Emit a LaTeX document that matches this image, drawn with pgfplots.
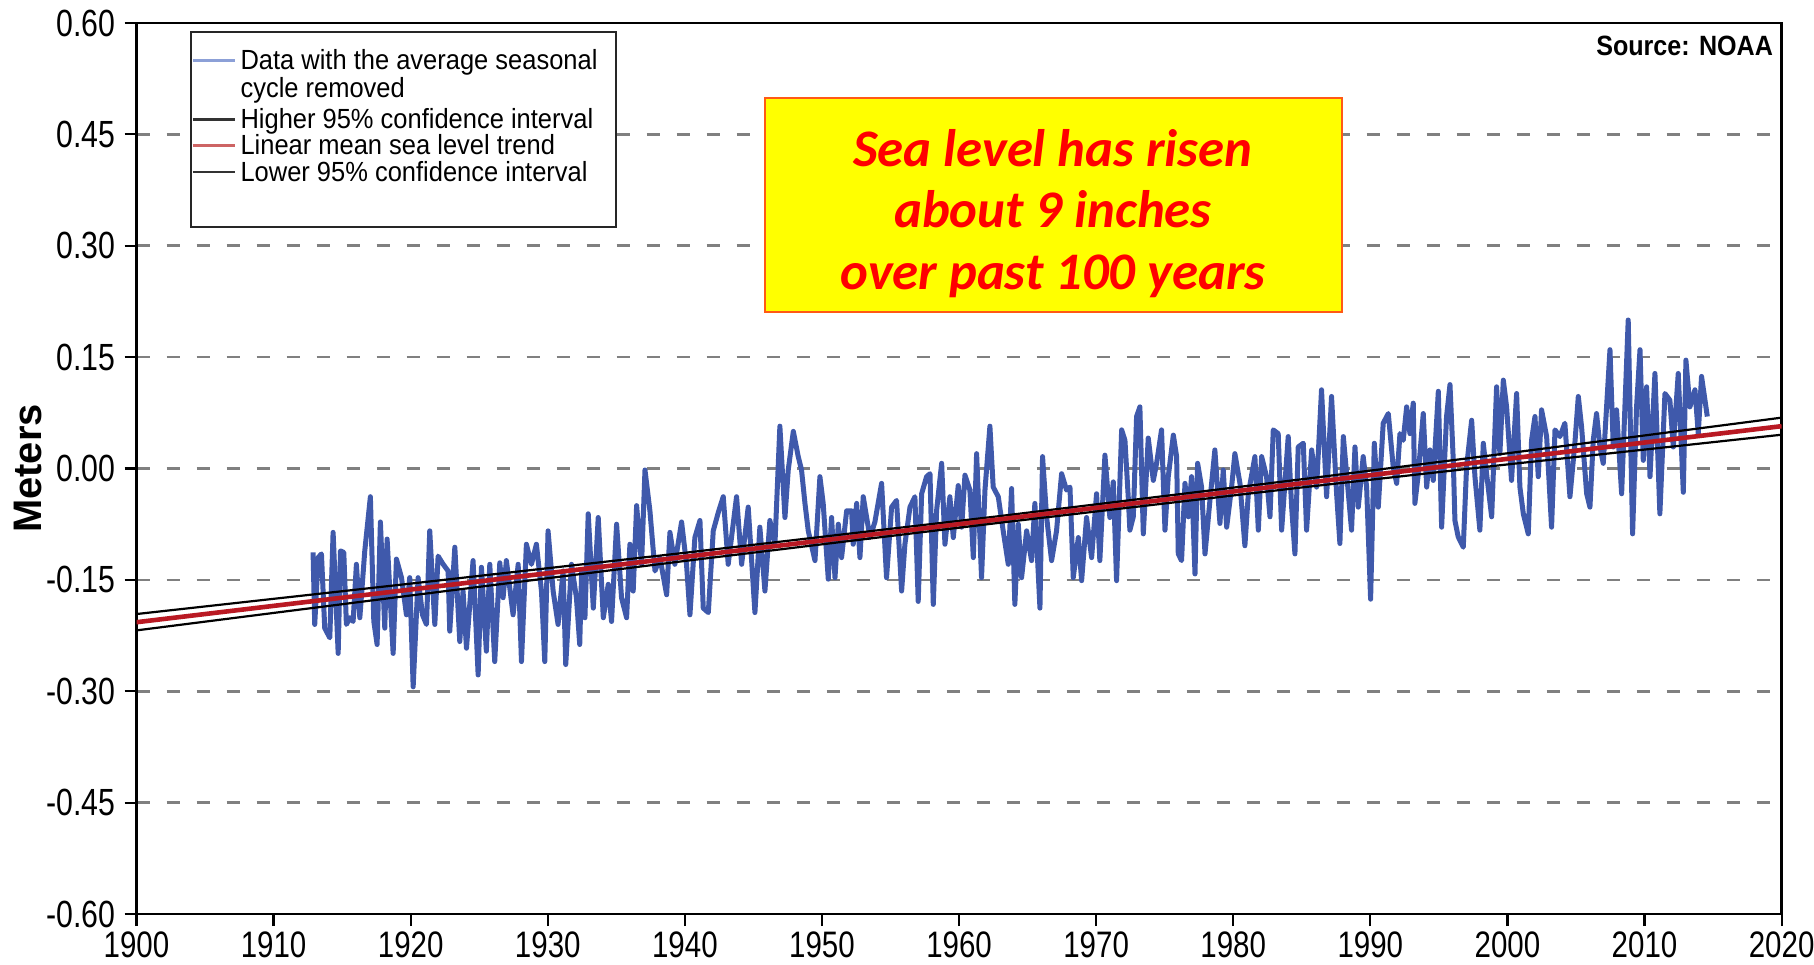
\documentclass[border=0pt]{standalone}
\usepackage{fontspec}
\setmainfont{Liberation Sans}
\newfontfamily\condfont[FakeStretch=0.8]{Liberation Sans}
\newfontfamily\legfont[FakeStretch=0.92]{Liberation Sans}
\newfontfamily\srcfont[FakeStretch=0.9]{Liberation Sans}
\newfontfamily\boxfont{Carlito}
\usepackage{pgfplots}
\pgfplotsset{compat=1.18}
\usepackage{pgfplotstable}
\definecolor{seablue}{RGB}{63,89,171}
\definecolor{legblue}{RGB}{140,160,215}
\definecolor{trendred}{RGB}{185,25,35}
\definecolor{legred}{RGB}{205,100,100}
\definecolor{gridgray}{RGB}{128,128,128}
\definecolor{boxorange}{RGB}{255,90,20}
\definecolor{boxyellow}{RGB}{255,255,0}
\definecolor{boxred}{RGB}{255,0,0}

\pgfplotstableread{
year value
1912.88 -0.113
1913.00 -0.210
1913.25 -0.120
1913.49 -0.115
1913.73 -0.215
1914.10 -0.228
1914.34 -0.086
1914.71 -0.249
1914.88 -0.111
1915.12 -0.113
1915.31 -0.210
1915.56 -0.201
1915.80 -0.206
1916.04 -0.129
1916.29 -0.201
1916.65 -0.111
1917.06 -0.038
1917.31 -0.206
1917.55 -0.237
1917.79 -0.072
1918.11 -0.215
1918.28 -0.095
1918.72 -0.249
1918.96 -0.122
1919.33 -0.147
1919.69 -0.197
1919.93 -0.147
1920.18 -0.294
1920.54 -0.147
1920.86 -0.197
1921.15 -0.210
1921.39 -0.084
1921.76 -0.210
1922.00 -0.118
1922.37 -0.129
1922.73 -0.138
1922.85 -0.219
1923.22 -0.106
1923.58 -0.233
1923.82 -0.165
1924.07 -0.242
1924.55 -0.124
1924.92 -0.278
1925.16 -0.133
1925.52 -0.246
1925.77 -0.129
1926.13 -0.260
1926.50 -0.127
1926.74 -0.174
1926.98 -0.124
1927.47 -0.197
1927.84 -0.129
1928.08 -0.260
1928.44 -0.102
1928.81 -0.129
1929.17 -0.102
1929.54 -0.165
1929.78 -0.260
1930.02 -0.084
1930.39 -0.165
1930.75 -0.210
1931.12 -0.138
1931.31 -0.264
1931.73 -0.129
1932.09 -0.174
1932.33 -0.237
1932.47 -0.138
1932.71 -0.201
1932.95 -0.061
1933.32 -0.188
1933.68 -0.066
1934.05 -0.201
1934.41 -0.156
1934.65 -0.206
1935.02 -0.075
1935.38 -0.174
1935.75 -0.201
1935.99 -0.102
1936.23 -0.165
1936.48 -0.050
1936.84 -0.129
1937.09 -0.002
1937.45 -0.057
1937.82 -0.138
1938.18 -0.120
1938.67 -0.170
1938.91 -0.086
1939.27 -0.129
1939.76 -0.072
1940.12 -0.129
1940.37 -0.197
1940.73 -0.093
1941.10 -0.070
1941.34 -0.188
1941.71 -0.194
1942.07 -0.084
1942.44 -0.059
1942.80 -0.038
1943.16 -0.129
1943.77 -0.038
1944.14 -0.129
1944.62 -0.052
1945.11 -0.194
1945.47 -0.079
1945.84 -0.165
1946.20 -0.070
1946.57 -0.102
1946.93 0.057
1947.30 -0.066
1947.54 -0.002
1947.91 0.050
1948.27 0.016
1948.51 -0.002
1948.76 -0.047
1949.00 -0.084
1949.49 -0.124
1949.85 -0.011
1950.09 -0.047
1950.46 -0.149
1950.70 -0.066
1950.95 -0.147
1951.19 -0.075
1951.43 -0.120
1951.80 -0.057
1952.16 -0.057
1952.28 -0.102
1952.53 -0.047
1952.77 -0.120
1953.01 -0.038
1953.50 -0.093
1953.86 -0.072
1954.35 -0.020
1954.71 -0.147
1955.08 -0.052
1955.44 -0.043
1955.81 -0.165
1956.05 -0.102
1956.42 -0.052
1956.78 -0.038
1957.02 -0.179
1957.27 -0.034
1957.63 -0.011
1957.88 -0.007
1958.12 -0.183
1958.36 -0.057
1958.73 0.007
1958.97 -0.102
1959.33 -0.038
1959.58 -0.093
1959.94 -0.023
1960.19 -0.079
1960.43 -0.009
1960.79 -0.029
1961.04 -0.120
1961.28 0.020
1961.64 -0.147
1961.89 -0.029
1962.25 0.057
1962.49 -0.025
1962.86 -0.038
1963.22 -0.084
1963.59 -0.129
1963.83 -0.027
1964.07 -0.183
1964.32 -0.075
1964.56 -0.147
1964.93 -0.084
1965.29 -0.124
1965.53 -0.047
1965.90 -0.188
1966.09 0.016
1966.39 -0.066
1966.75 -0.124
1967.11 -0.084
1967.48 -0.007
1967.84 -0.029
1968.09 -0.025
1968.33 -0.147
1968.70 -0.093
1968.94 -0.151
1969.30 -0.066
1969.67 -0.120
1970.03 -0.034
1970.27 -0.124
1970.64 0.018
1971.00 -0.066
1971.25 -0.018
1971.49 -0.151
1971.86 0.052
1972.10 0.038
1972.34 -0.038
1972.46 -0.083
1972.71 -0.065
1972.95 0.070
1973.19 0.083
1973.44 -0.088
1973.80 0.041
1974.17 -0.016
1974.41 0.007
1974.77 0.052
1975.02 -0.083
1975.26 -0.011
1975.63 0.045
1975.87 0.016
1975.99 -0.115
1976.23 -0.124
1976.48 -0.020
1976.72 -0.065
1976.96 -0.011
1977.21 -0.142
1977.40 0.007
1977.69 -0.025
1977.94 -0.115
1978.30 -0.043
1978.66 0.025
1979.03 -0.074
1979.27 -0.002
1979.52 -0.079
1979.88 -0.025
1980.12 0.020
1980.49 -0.020
1980.85 -0.104
1981.10 -0.034
1981.58 0.016
1981.83 -0.083
1982.07 0.016
1982.43 -0.011
1982.68 -0.065
1982.92 0.052
1983.28 0.047
1983.53 -0.083
1984.01 0.043
1984.26 -0.052
1984.50 -0.115
1984.74 0.029
1985.11 0.034
1985.35 -0.083
1985.72 0.025
1986.08 -0.025
1986.44 0.106
1986.81 -0.038
1987.17 0.097
1987.54 -0.034
1987.78 -0.101
1988.03 0.043
1988.27 -0.007
1988.63 -0.083
1988.88 0.029
1989.12 -0.052
1989.48 0.016
1989.73 -0.025
1990.02 -0.176
1990.29 0.034
1990.58 -0.052
1990.94 0.061
1991.31 0.074
1991.67 0.002
1991.92 -0.020
1992.16 0.047
1992.40 0.038
1992.65 0.083
1992.89 0.047
1993.13 0.088
1993.25 -0.047
1993.50 -0.007
1993.86 0.074
1994.11 -0.025
1994.35 0.025
1994.59 -0.016
1994.96 0.104
1995.20 -0.079
1995.56 0.070
1995.81 0.113
1996.05 0.011
1996.17 -0.070
1996.41 -0.092
1996.78 -0.106
1997.02 0.002
1997.39 0.065
1997.63 -0.011
1997.99 -0.083
1998.24 0.034
1998.48 -0.007
1998.85 -0.065
1999.21 0.110
1999.45 0.020
1999.70 0.119
1999.94 0.083
2000.30 -0.016
2000.67 0.101
2000.91 -0.025
2001.16 -0.061
2001.52 -0.088
2001.76 0.038
2002.01 0.070
2002.25 -0.011
2002.49 0.079
2002.86 0.043
2003.22 -0.079
2003.47 0.052
2003.83 0.043
2004.19 0.061
2004.56 -0.038
2004.92 0.034
2005.17 0.097
2005.41 0.056
2005.78 -0.034
2006.02 -0.052
2006.26 0.038
2006.50 0.074
2006.75 0.029
2006.99 0.007
2007.48 0.160
2007.72 0.029
2007.96 0.079
2008.33 -0.034
2008.81 0.200
2009.13 -0.088
2009.42 0.083
2009.67 0.160
2009.91 0.011
2010.15 0.110
2010.40 -0.011
2010.76 0.128
2011.12 -0.061
2011.49 0.101
2011.85 0.092
2012.10 0.029
2012.46 0.128
2012.83 -0.032
2013.02 0.146
2013.31 0.083
2013.68 0.106
2013.92 0.047
2014.16 0.124
2014.41 0.092
2014.58 0.070
}\sealevel

\pgfplotstableread{
year upper trend lower
1900 -0.196 -0.207 -0.218
1920 -0.155 -0.163 -0.171
1940 -0.1135 -0.119 -0.1245
1963 -0.064 -0.0684 -0.073
1985 -0.0145 -0.020 -0.0255
2000 0.0205 0.013 0.0055
2020 0.0685 0.057 0.0455
}\trend

\begin{document}
\begin{tikzpicture}
\begin{axis}[
  name=ax,
  scale only axis,
  width=822.5bp, height=445.5bp,
  xmin=1900, xmax=2020, ymin=-0.6, ymax=0.6,
  xtick={1900,1910,...,2020},
  xticklabels={1900,1910,1920,1930,1940,1950,1960,1970,1980,1990,2000,2010,2020},
  ytick={-0.6,-0.45,-0.3,-0.15,0,0.15,0.3,0.45,0.6},
  yticklabels={-0.60,-0.45,-0.30,-0.15,0.00,0.15,0.30,0.45,0.60},
  tick align=outside,
  xtick pos=bottom, ytick pos=left,
  major tick length=6bp,
  tick style={black, line width=1.1bp},
  axis line style={black, line width=1.3bp},
  x tick label style={font=\condfont\fontsize{18.5}{20}\selectfont, yshift=-1.5bp, inner ysep=1bp},
  y tick label style={font=\condfont\fontsize{19}{21}\selectfont, xshift=-1bp},
  ymajorgrids,
  major grid style={gridgray, line width=1.3bp, dash pattern=on 6.5bp off 8.5bp},
  legend image code/.code={\draw[#1] (0bp,4.5bp) -- (21bp,4.5bp);},
  legend style={at={(axis description cs:0.0331,0.9899)}, anchor=north west,
    draw=none, fill=none, inner xsep=0bp, inner ysep=0bp, yshift=-8.7bp,
    font=\legfont\fontsize{13.9}{13.3}\selectfont,
    column sep=1bp, row sep=0bp,
    nodes={inner xsep=1bp, inner ysep=0bp, text height=9.8bp, text depth=3.4bp},
    cells={anchor=base west}},
]
% legend frame (white, hides grid)
\draw[fill=white, draw=black!85, line width=1.2bp]
  (axis description cs:0.0331,0.9899) rectangle ++(212.5bp,-97.5bp);
% annotation box
\draw[fill=boxyellow, draw=boxorange, line width=0.9bp]
  (axis cs:1945.84,0.499) rectangle (axis cs:1987.93,0.2103);
\node[align=center, text=boxred, font=\boxfont\bfseries\itshape\fontsize{26.5}{31}\selectfont]
  at (axis cs:1966.85,0.3435) {Sea level has risen\\about 9 inches\\over past 100 years};

\addplot[seablue, line width=2.5bp, line join=round, forget plot] table[x=year, y=value] {\sealevel};
\addplot[black, line width=1.1bp, forget plot] table[x=year, y=upper] {\trend};
\addplot[trendred, line width=2.3bp, forget plot] table[x=year, y=trend] {\trend};
\addplot[black, line width=1.1bp, forget plot] table[x=year, y=lower] {\trend};

\addlegendimage{legblue, line width=1.6bp}
\addlegendentry[text depth=19.7bp]{\begin{tabular}[t]{@{}l@{}}Data with the average seasonal\\cycle removed\end{tabular}}
\addlegendimage{black!80, line width=1.2bp}
\addlegendentry{Higher 95\% confidence interval}
\addlegendimage{legred, line width=1.6bp}
\addlegendentry{Linear mean sea level trend}
\addlegendimage{black!80, line width=1.2bp}
\addlegendentry{Lower 95\% confidence interval}
\end{axis}
\node[rotate=90, font=\bfseries\fontsize{20}{22}\selectfont] at ([xshift=-54.25bp]ax.west) {Meters};
\node[anchor=east, font=\srcfont\bfseries\fontsize{14}{16}\selectfont] at ([xshift=-0.8bp,yshift=-11.5bp]ax.north east) {Source: NOAA};
\pgfresetboundingbox
\path ([shift={(-68.25bp,-25bp)}]ax.south west) rectangle ([shift={(16.2bp,11.5bp)}]ax.north east);
\end{tikzpicture}
\end{document}
